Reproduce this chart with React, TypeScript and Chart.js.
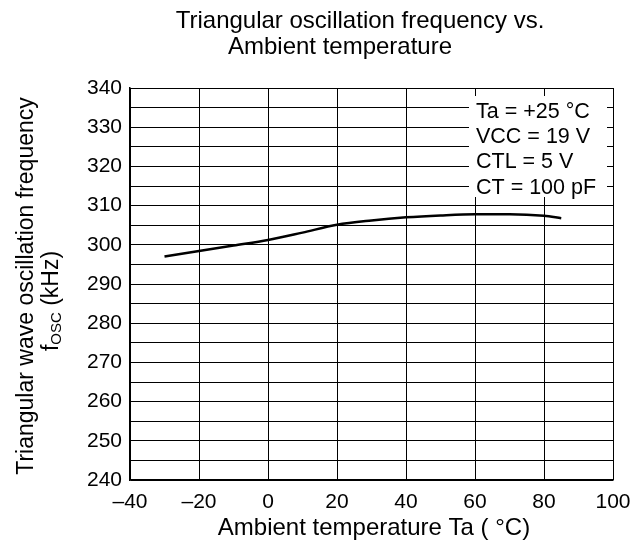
import React, { useEffect, useRef } from "react";
import { Chart, registerables } from "chart.js";

Chart.register(...registerables);

const temperatures: number[] = [-30, -20, -10, 0, 10, 20, 30, 40, 50, 60, 70, 80, 85];
const frequencies: number[] = [297.0, 298.4, 299.8, 301.2, 303.1, 305.1, 306.2, 307.0, 307.5, 307.8, 307.8, 307.4, 306.8];

const titleLines: string[] = ["Triangular oscillation frequency vs.", "Ambient temperature"];
const yTitleMain = "Triangular wave oscillation frequency";
const yTitleSub = ["f", "OSC", " (kHz)"];
const xTitle = "Ambient temperature Ta ( \u00B0C)";
const conditions: string[] = ["Ta = +25 \u00B0C", "VCC = 19 V", "CTL = 5 V", "CT = 100 pF"];

const xMin = -40, xMax = 100, xStep = 20;
const yMin = 240, yMax = 340, yStep = 5, yLabelStep = 10;

const FONT = "'Liberation Sans', Arial, Helvetica, sans-serif";

const textPlugin = {
  id: "customText",
  beforeDatasetsDraw(chart: any) {
    const { ctx } = chart;
    ctx.save();
    const bx = 469, by = 96, bw = 607 - 469, bh = 197 - 96;
    ctx.fillStyle = "#fff";
    ctx.fillRect(bx, by, bw, bh);
    ctx.fillStyle = "#000";
    ctx.font = `21.5px ${FONT}`;
    ctx.textAlign = "left";
    ctx.textBaseline = "alphabetic";
    const bases = [118, 143, 168, 194];
    conditions.forEach((t, i) => ctx.fillText(t, 476, bases[i]));
    ctx.restore();
  },
  afterDraw(chart: any) {
    const { ctx } = chart;
    ctx.save();
    ctx.fillStyle = "#000";
    ctx.textBaseline = "alphabetic";
    ctx.font = `24px ${FONT}`;
    ctx.textAlign = "center";
    ctx.fillText(titleLines[0], 360, 28);
    ctx.fillText(titleLines[1], 340, 54);
    ctx.fillText(xTitle, 374, 535);
    ctx.save();
    ctx.translate(33, 286);
    ctx.rotate(-Math.PI / 2);
    ctx.textAlign = "center";
    ctx.font = `23px ${FONT}`;
    ctx.fillText(yTitleMain, 0, 0);
    ctx.restore();
    ctx.save();
    ctx.translate(58, 301);
    ctx.rotate(-Math.PI / 2);
    ctx.textAlign = "left";
    ctx.font = `23px ${FONT}`;
    const w0 = ctx.measureText(yTitleSub[0]).width;
    ctx.font = `15px ${FONT}`;
    const w1 = ctx.measureText(yTitleSub[1]).width;
    ctx.font = `23px ${FONT}`;
    const w2 = ctx.measureText(yTitleSub[2]).width;
    let x = -(w0 + w1 + w2) / 2;
    ctx.fillText(yTitleSub[0], x, 0);
    x += w0;
    ctx.font = `15px ${FONT}`;
    ctx.fillText(yTitleSub[1], x, 3);
    x += w1;
    ctx.font = `23px ${FONT}`;
    ctx.fillText(yTitleSub[2], x, 0);
    ctx.restore();
    ctx.restore();
  },
};

export default function App() {
  const ref = useRef<HTMLCanvasElement>(null);
  useEffect(() => {
    if (!ref.current) return;
    const chart = new Chart(ref.current, {
      type: "line",
      data: {
        datasets: [
          {
            data: temperatures.map((t, i) => ({ x: t, y: frequencies[i] })),
            borderColor: "#000",
            borderWidth: 2.5,
            pointRadius: 0,
            tension: 0.4,
            cubicInterpolationMode: "monotone",
            fill: false,
          },
        ],
      },
      options: {
        responsive: false,
        animation: false,
        events: [],
        layout: { padding: { top: 88, right: 29, left: 0, bottom: 0 } },
        plugins: { legend: { display: false }, title: { display: false }, tooltip: { enabled: false } },
        scales: {
          x: {
            type: "linear",
            min: xMin,
            max: xMax,
            afterFit: (s: any) => { s.height = 68; },
            ticks: {
              stepSize: xStep,
              color: "#000",
              font: { family: FONT, size: 21 },
              padding: 10,
              maxRotation: 0,
              callback: (v: any) => (Number(v) < 0 ? "\u2013" + Math.abs(Number(v)) : String(v)),
            },
            grid: { color: "#000", lineWidth: 1, drawTicks: false },
            border: { color: "#000", width: 1.5 },
          },
          y: {
            type: "linear",
            min: yMin,
            max: yMax,
            afterFit: (s: any) => { s.width = 130; },
            ticks: {
              stepSize: yStep,
              color: "#000",
              font: { family: FONT, size: 21 },
              padding: 8,
              autoSkip: false,
              callback: (v: any) => (Number(v) % yLabelStep === 0 ? String(v) : ""),
            },
            grid: { color: "#000", lineWidth: 1, drawTicks: false },
            border: { color: "#000", width: 1.5 },
          },
        },
      },
      plugins: [textPlugin],
    } as any);
    return () => chart.destroy();
  }, []);
  return (
    <div style={{ position: "absolute", left: 0, top: 0, width: 642, height: 548, background: "#fff" }}>
      <canvas ref={ref} width={642} height={548} style={{ width: 642, height: 548 }} />
    </div>
  );
}
